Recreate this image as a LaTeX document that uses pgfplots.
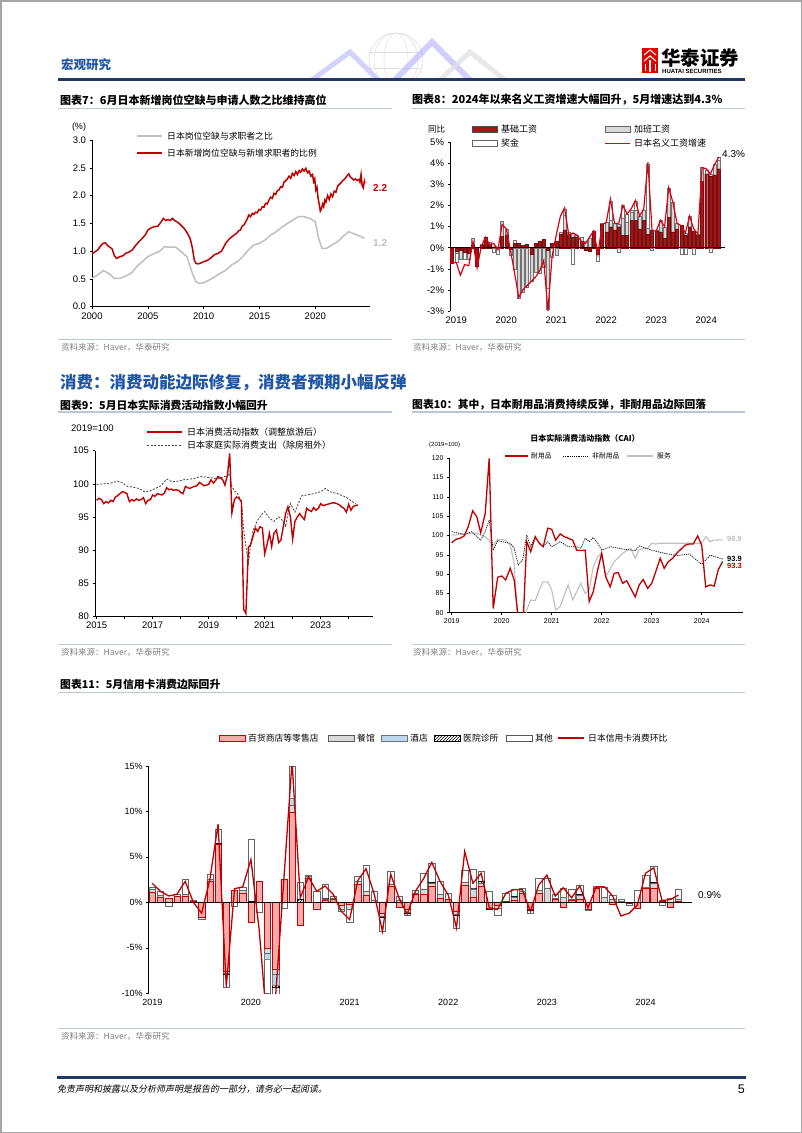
\documentclass[border=0pt]{standalone}
\usepackage{fontspec}
\setmainfont{Liberation Sans}
\newfontfamily\cjk{Noto Sans CJK SC}
\newfontfamily\cjkit{Noto Sans CJK SC}[FakeSlant=0.2]
\usepackage{pgfplots}
\pgfplotsset{compat=1.18}
\usepackage{pgfplotstable}
\usetikzlibrary{patterns}
\newcommand\fs[1]{\fontsize{#1}{#1}\selectfont}
\definecolor{navy}{RGB}{31,56,100}
\definecolor{hblue}{RGB}{30,85,165}
\definecolor{dkred}{RGB}{192,0,0}
\definecolor{basered}{RGB}{165,20,25}
\definecolor{linered}{RGB}{220,0,20}
\definecolor{pinkf}{RGB}{246,170,170}
\definecolor{lgray}{RGB}{217,217,217}
\definecolor{lblue}{RGB}{189,215,238}
\definecolor{srcgray}{RGB}{128,128,128}
\definecolor{rulec}{RGB}{190,198,210}
\definecolor{midgray}{RGB}{191,191,191}

\pgfplotsset{
  pagestyle/.style={scale only axis, anchor=south west,
    axis line style={black, line width=0.6pt, -},
    tick style={black, line width=0.5pt}, major tick length=2.5pt,
    tick align=outside, ticklabel style={font=\fs{9.5}}},
  hid/.style={scale only axis, anchor=south west, axis lines=none, ticks=none}
}

% ---------- Chart 8 data: base wage D, overtime G, bonus W, total L ----------
\pgfplotstableread{
i D G W L
-1 0 0 0 0.5
0 -0.75 0 0 -0.7
1 -0.15 -0.1 -0.45 -0.7
2 -0.1 -0.45 0 -1.3
3 -0.2 0 -0.35 -0.8
4 -0.25 -0.3 0 -0.85
5 0.1 0 0.35 0.3
6 -0.85 0 0 -0.95
7 0.1 0.05 0 0.05
8 0.5 0 0 0.5
9 0.15 0.1 0 0.15
10 0.05 0 -0.2 0.2
11 0.05 0 -0.3 -0.1
12 0.55 0.7 0 1.1
13 0.6 0.3 0 0.9
14 -0.05 -0.3 0 -0.1
15 0.2 -1.0 0.15 -1.2
16 0.2 -2.4 0 -2.35
17 0.1 -2.1 0 -2.0
18 0.15 -1.85 0 -1.8
19 -0.3 -1.3 0 -1.6
20 0.2 -1.15 0 -1.4
21 0.3 -1.2 0 -1.1
22 0.4 -0.9 0 -0.6
23 -0.1 -1.8 -1.0 -3.0
24 0.2 0 -0.45 -0.4
25 0.3 -0.35 0 0.6
26 0.65 0.1 0 1.5
27 0.85 0.7 0.3 1.9
28 0.6 0.15 0 0.6
29 0.5 0.2 -0.8 0.7
30 0.5 0.1 0 0.6
31 0.3 0.2 0 0.3
32 -0.1 0.3 0 0.2
33 -0.15 0.45 0 0.5
34 0.8 0 0 0.8
35 -0.3 0 -0.35 -0.3
36 1.1 0.05 0 1.1
37 0.75 0.45 0 1.2
38 1.0 0.3 0.9 2.3
39 0.85 0.3 0 1.15
40 1.0 0.1 -0.2 1.15
41 0.6 0.8 0.6 2.0
42 0.6 0.6 0.4 1.6
43 1.3 0.4 0.1 1.85
44 1.3 0.5 0.4 2.25
45 0.9 0.6 0 1.5
46 1.3 0.5 0 1.85
47 0.65 0.3 3.0 4.05
48 0.85 0 -0.1 0.8
49 0.8 0.05 0 0.8
50 0.75 0.55 0 1.3
51 0.45 0.55 0 1.0
52 1.45 1.4 0 2.85
53 0.75 1.4 0 2.15
54 0.9 0.25 0 1.15
55 1.05 0 -0.3 1.05
56 0.6 0.1 -0.3 0.7
57 1.0 0.5 0 1.5
58 0.8 0 -0.3 0.9
59 0.6 0.05 0 0.65
60 3.15 0.65 0 3.8
61 3.5 0.2 0 3.75
62 3.4 0.1 -0.2 3.5
63 3.45 0.5 0 3.95
64 3.75 0.4 0.15 4.3
}\wagetab

% ---------- Chart 11 data: retail P, restaurants G, hotels B, clinics H, other O, total L ----------
\pgfplotstableread{
i P G B H O L
0 1.1 0.3 0 0 0.3 2.1
1 0.6 0.2 0 0 0.4 1.2
2 0.5 0 0 0 -0.4 0.7
3 0.7 0 0 0 0.2 0.9
4 0.7 0.2 0 0 1.6 2.3
5 0.15 0.1 0 0 0 0.0
6 -1.6 -0.2 0 0 0 -1.2
7 2.3 0.3 0 0 0.5 2.5
8 6.4 0 0 0.1 1.6 8.6
9 -7.6 -0.2 0 -0.1 -1.4 -9.3
10 1.3 0 0 0 -0.4 1.5
11 1.0 0.3 0 0 0.4 1.7
12 -2.2 0 0 0.1 6.8 4.7
13 2.3 0 0 0 -1.1 -3.0
14 -5.0 -0.6 -0.6 -0.1 -3.7 -14
15 -7.3 -0.6 -1.2 -0.2 -1.0 -10.3
16 2.5 0 0 0 -0.6 2.5
17 9.9 0.8 0.8 0 3.5 15.5
18 -2.5 0 0 0.3 1.9 0.5
19 2.7 0.2 0 0 0.1 2.8
20 -0.7 0 0 0 1.2 1.2
21 0.2 0.2 0 0.05 1.6 1.8
22 0.3 0.2 0 0 0.2 0.9
23 -0.3 -0.4 0 0 -0.3 -1.0
24 -0.2 -0.5 0 0 -1.5 -1.9
25 2.0 0.3 0 0 0.6 2.4
26 0.8 0.4 0 0.05 2.8 3.7
27 0 0.2 0 0 1.0 0.9
28 -1.2 -0.3 0 -0.1 -1.6 -3.2
29 1.8 0.2 0 0 1.4 3.1
30 -0.5 0.2 0 0 0.5 0.5
31 -0.8 -0.3 0 -0.1 -0.2 -1.3
32 0.9 0.1 0 0 0.3 1.2
33 0.9 0.6 0 0 1.7 2.6
34 1.8 0.3 0 0.1 2.1 4.4
35 0.5 0.4 0 0 1.4 2.3
36 0.3 0.1 0 0 0.6 0.8
37 -1.0 -0.3 0 -0.1 -1.4 -2.8
38 1.9 0.3 0 0 1.3 5.6
39 0.6 0.9 0 0.1 2.0 2.1
40 1.8 0.3 0 0.2 1.1 3.2
41 -0.6 0 0 -0.1 1.2 -0.6
42 -0.3 -0.3 0 0 -0.8 -0.8
43 0.1 0 0 0 0.9 1.0
44 0.2 0.4 0 0.1 0.8 1.4
45 1.0 0.2 0 0 0.4 1.4
46 -0.8 0 0 -0.1 -0.3 -1.0
47 1.0 0.3 0 0 1.4 1.9
48 0.0 1.6 0 0 1.1 3.0
49 0.3 0.2 0 0 0.4 0.7
50 -0.5 0.6 0 0 1.0 1.6
51 0.2 0.2 0 0 1.1 0.5
52 0.3 0.5 0 0.1 1.0 1.8
53 -0.7 0 0 0 -0.2 -0.6
54 1.6 0.1 0 0 0.1 1.7
55 0.0 0.6 0 0 1.1 1.7
56 -0.2 0.3 0 0 0.5 0.7
57 0 0.1 0 0 0.2 -1.5
58 -0.1 0 0 0 -0.2 -1.2
59 -0.6 0 0 0 1.3 -0.3
60 1.6 0.1 0 0 1.3 3.2
61 1.6 0.5 0 0.1 1.8 3.8
62 0.1 0.1 0 0 -0.3 0.2
63 -0.5 0 0 0 0.5 0.3
64 0.1 0.2 0 0 1.2 0.8
}\cardtab

\begin{document}
\begin{tikzpicture}
\useasboundingbox (0pt,0pt) rectangle (802pt,-1133pt);
\fill[white] (0pt,0pt) rectangle (802pt,-1133pt);

\begin{scope}[x=1pt,y=-1pt]
% page frame
\draw[gray!70, line width=1.5pt] (0.75,0.75) rectangle (801.25,1132.25);
% header decoration (globe + chevrons)
\begin{scope}
\clip (300,20) rectangle (520,79);
\draw[gray!25, line width=0.6pt] (396,60) circle (27);
\draw[gray!25, line width=0.5pt] (396,60) ellipse (12 and 27);
\draw[gray!25, line width=0.5pt] (396,60) ellipse (22 and 27);
\draw[gray!25, line width=0.5pt] (369,52) -- (423,52) (370,68) -- (422,68);
\draw[blue!25, line width=5pt, opacity=0.7] (312,80) -- (350,52) -- (378,80);
\draw[blue!30, line width=6pt, opacity=0.6] (395,80) -- (432,42) -- (470,80);
\draw[gray!25, line width=5pt, opacity=0.7] (440,80) -- (470,52) -- (505,80);
\end{scope}
\node[anchor=west, inner sep=0, text=hblue] at (61,65) {\cjk\bfseries\fs{12.5}宏观研究};
% logo
\fill[red!90!black] (642,48) rectangle (658,73);
\draw[white, line width=1.1pt] (644,55) -- (650,50) -- (656,55);
\draw[white, line width=1.1pt] (644,61) -- (650,56) -- (656,61);
\draw[white, line width=1.1pt] (650,60) -- (650,72);
\draw[white, line width=0.9pt] (645,64) -- (645,71) (655,64) -- (655,71);
\node[anchor=west, inner sep=0] at (661,58) {\cjk\bfseries\fs{19.5}华泰证券};
\node[anchor=west, inner sep=0] at (662,71.5) {\bfseries\fs{6}HUATAI SECURITIES};
\draw[navy, line width=2.5pt] (58,79.5) -- (745,79.5);

% chart titles row 1
\node[anchor=west, inner sep=0] at (60,100) {\cjk\bfseries\fs{11}图表7：6月日本新增岗位空缺与申请人数之比维持高位};
\node[anchor=west, inner sep=0] at (412,100) {\cjk\bfseries\fs{11}图表8：2024年以来名义工资增速大幅回升，5月增速达到4.3\%};
\draw[rulec, line width=1.2pt] (58,108.5) -- (392,108.5);
\draw[rulec, line width=1.2pt] (412,108.5) -- (745,108.5);

% chart 7 labels/legend
\node[anchor=center, inner sep=0] at (79,127) {\fs{9}(\%)};
\draw[midgray, line width=1.5pt] (137,136) -- (162,136);
\node[anchor=west, inner sep=0] at (167,136) {\cjk\fs{8.8}日本岗位空缺与求职者之比};
\draw[dkred, line width=1.5pt] (137,153) -- (162,153);
\node[anchor=west, inner sep=0] at (167,153) {\cjk\fs{8.8}日本新增岗位空缺与新增求职者的比例};
\node[anchor=west, inner sep=0, text=dkred] at (373,188) {\bfseries\fs{10}2.2};
\node[anchor=west, inner sep=0, text=midgray] at (373,243) {\bfseries\fs{10}1.2};

% chart 8 legend
\node[anchor=west, inner sep=0] at (428,129) {\cjk\fs{8.5}同比};
\draw[fill=basered, draw=black!70, line width=0.4pt] (472,126.5) rectangle (497,132.5);
\node[anchor=west, inner sep=0] at (501,129) {\cjk\fs{9}基础工资};
\draw[fill=lgray, draw=black!60, line width=0.4pt] (605,126.5) rectangle (630,132.5);
\node[anchor=west, inner sep=0] at (634,129) {\cjk\fs{9}加班工资};
\draw[fill=white, draw=black!60, line width=0.4pt] (472,140.5) rectangle (497,146.5);
\node[anchor=west, inner sep=0] at (501,143.5) {\cjk\fs{9}奖金};
\draw[linered, line width=1.5pt] (605,143.5) -- (630,143.5);
\node[anchor=west, inner sep=0] at (634,143.5) {\cjk\fs{9}日本名义工资增速};
\node[anchor=west, inner sep=0] at (722,154) {\fs{10}4.3\%};

% sources row 1
\draw[rulec, line width=0.8pt] (58,339) -- (392,339);
\draw[rulec, line width=0.8pt] (412,339) -- (745,339);
\node[anchor=west, inner sep=0, text=srcgray] at (61,347.5) {\cjk\fs{8.5}资料来源：Haver，华泰研究};
\node[anchor=west, inner sep=0, text=srcgray] at (413,347.5) {\cjk\fs{8.5}资料来源：Haver，华泰研究};

% section heading
\node[anchor=west, inner sep=0, text=hblue] at (60,383) {\cjk\bfseries\fs{16.5}消费：消费动能边际修复，消费者预期小幅反弹};

% chart titles row 2
\node[anchor=west, inner sep=0] at (60,405) {\cjk\bfseries\fs{10.8}图表9：5月日本实际消费活动指数小幅回升};
\node[anchor=west, inner sep=0] at (412,405) {\cjk\bfseries\fs{10.8}图表10：其中，日本耐用品消费持续反弹，非耐用品边际回落};
\draw[rulec, line width=1.2pt] (58,412) -- (392,412);
\draw[rulec, line width=1.2pt] (412,412) -- (745,412);

% chart 9 labels / legend
\node[anchor=west, inner sep=0] at (71,428) {\fs{9.5}2019=100};
\draw[dkred, line width=1.5pt] (147,432) -- (182,432);
\node[anchor=west, inner sep=0] at (187,432) {\cjk\fs{9}日本消费活动指数（调整旅游后）};
\draw[black!75, line width=0.8pt, dash pattern=on 2pt off 1.5pt] (147,445) -- (182,445);
\node[anchor=west, inner sep=0] at (187,445) {\cjk\fs{9}日本家庭实际消费支出（除房租外）};

% chart 10 labels / legend
\node[anchor=center, inner sep=0] at (585,438) {\cjk\bfseries\fs{8}日本实际消费活动指数（CAI）};
\node[anchor=west, inner sep=0] at (429,444.5) {\fs{6}(2019=100)};
\draw[dkred, line width=1.3pt] (505,456) -- (528,456);
\node[anchor=west, inner sep=0] at (531,456) {\cjk\fs{6.8}耐用品};
\draw[black, line width=0.7pt, dash pattern=on 1.2pt off 1pt] (563,456) -- (588,456);
\node[anchor=west, inner sep=0] at (592,456) {\cjk\fs{6.8}非耐用品};
\draw[midgray, line width=1.2pt] (627,456) -- (653,456);
\node[anchor=west, inner sep=0] at (657,456) {\cjk\fs{6.8}服务};
\node[anchor=west, inner sep=0, text=midgray] at (727,539) {\bfseries\fs{7.5}98.9};
\node[anchor=west, inner sep=0] at (727,558.5) {\bfseries\fs{7.5}93.9};
\node[anchor=west, inner sep=0, text=dkred] at (727,565.5) {\bfseries\fs{7.5}93.3};

% sources row 2
\draw[rulec, line width=0.8pt] (58,644) -- (392,644);
\draw[rulec, line width=0.8pt] (412,644) -- (745,644);
\node[anchor=west, inner sep=0, text=srcgray] at (61,652.5) {\cjk\fs{8.5}资料来源：Haver，华泰研究};
\node[anchor=west, inner sep=0, text=srcgray] at (413,652.5) {\cjk\fs{8.5}资料来源：Haver，华泰研究};

% chart 11 title / legend
\node[anchor=west, inner sep=0] at (60,684) {\cjk\bfseries\fs{10.8}图表11：5月信用卡消费边际回升};
\draw[rulec, line width=1.2pt] (58,692.5) -- (745,692.5);
\draw[fill=pinkf, draw=dkred, line width=0.4pt] (219,735) rectangle (245,741);
\node[anchor=west, inner sep=0] at (248,738) {\cjk\fs{8.8}百货商店等零售店};
\draw[fill=lgray, draw=black!65, line width=0.4pt] (328,735) rectangle (354,741);
\node[anchor=west, inner sep=0] at (357,738) {\cjk\fs{8.8}餐馆};
\draw[fill=lblue, draw=black!55, line width=0.4pt] (381,735) rectangle (407,741);
\node[anchor=west, inner sep=0] at (410,738) {\cjk\fs{8.8}酒店};
\draw[pattern=north east lines, draw=black, line width=0.4pt] (434,735) rectangle (460,741);
\node[anchor=west, inner sep=0] at (463,738) {\cjk\fs{8.8}医院诊所};
\draw[fill=white, draw=black!65, line width=0.4pt] (506,735) rectangle (532,741);
\node[anchor=west, inner sep=0] at (535,738) {\cjk\fs{8.8}其他};
\draw[dkred, line width=1.3pt] (558,738) -- (584,738);
\node[anchor=west, inner sep=0] at (588,738) {\cjk\fs{8.8}日本信用卡消费环比};
\node[anchor=west, inner sep=0] at (698,895) {\fs{10}0.9\%};
\draw[rulec, line width=0.8pt] (58,1028) -- (745,1028);
\node[anchor=west, inner sep=0, text=srcgray] at (61,1036) {\cjk\fs{8.5}资料来源：Haver，华泰研究};

% footer
\draw[navy, line width=2.5pt] (57,1077.5) -- (746,1077.5);
\node[anchor=west, inner sep=0] at (57,1089.5) {\cjkit\fs{9}免责声明和披露以及分析师声明是报告的一部分，请务必一起阅读。};
\node[anchor=east, inner sep=0] at (745,1089.5) {\fs{12.5}5};
\end{scope}

% ================= Chart 7 =================
\begin{axis}[pagestyle, at={(92pt,-306.7pt)}, width=278pt, height=166.7pt,
  xmin=2000, xmax=2024.9, ymin=0, ymax=3,
  axis x line*=bottom, axis y line*=left,
  xtick={2000,2005,2010,2015,2020}, xticklabels={2000,2005,2010,2015,2020},
  ytick={0,0.5,1,1.5,2,2.5,3}, yticklabels={0.0,0.5,1.0,1.5,2.0,2.5,3.0}]
\addplot[midgray, line width=1.5pt] coordinates {
(2000.0,0.51)(2000.5,0.57)(2001.0,0.65)(2001.5,0.60)(2002.0,0.51)(2002.5,0.51)(2003.0,0.55)(2003.5,0.60)(2004.0,0.72)(2004.5,0.81)(2005.0,0.90)(2005.5,0.95)(2006.0,0.99)(2006.5,1.08)(2007.0,1.07)(2007.5,1.07)(2008.0,0.99)(2008.5,0.90)(2009.0,0.60)(2009.3,0.45)(2009.6,0.42)(2010.0,0.43)(2010.5,0.48)(2011.0,0.54)(2011.5,0.60)(2012.0,0.66)(2012.5,0.75)(2013.0,0.81)(2013.5,0.90)(2014.0,1.02)(2014.5,1.11)(2015.0,1.14)(2015.5,1.20)(2016.0,1.29)(2016.5,1.35)(2017.0,1.43)(2017.5,1.50)(2018.0,1.56)(2018.5,1.62)(2019.0,1.62)(2019.5,1.59)(2020.0,1.53)(2020.3,1.23)(2020.6,1.05)(2021.0,1.05)(2021.5,1.11)(2022.0,1.17)(2022.5,1.27)(2023.0,1.35)(2023.5,1.31)(2024.0,1.27)(2024.4,1.23)};
\addplot[dkred, line width=1.5pt] coordinates {
(2000.0,0.95)(2000.2,0.98)(2000.5,1.02)(2000.8,1.10)(2001.0,1.14)(2001.2,1.15)(2001.4,1.10)(2001.6,1.07)(2001.8,1.04)(2002.0,0.92)(2002.2,0.87)(2002.5,0.90)(2002.8,0.92)(2003.0,0.96)(2003.3,0.98)(2003.6,1.02)(2003.9,1.10)(2004.2,1.17)(2004.5,1.23)(2004.8,1.30)(2005.0,1.38)(2005.3,1.42)(2005.6,1.44)(2005.9,1.45)(2006.1,1.50)(2006.4,1.59)(2006.6,1.55)(2006.8,1.57)(2007.0,1.55)(2007.2,1.59)(2007.4,1.55)(2007.6,1.53)(2007.8,1.50)(2008.0,1.46)(2008.2,1.42)(2008.4,1.37)(2008.6,1.30)(2008.8,1.22)(2009.0,1.05)(2009.15,0.85)(2009.3,0.78)(2009.5,0.77)(2009.8,0.79)(2010.0,0.81)(2010.3,0.83)(2010.6,0.87)(2011.0,0.94)(2011.3,0.96)(2011.6,1.00)(2012.0,1.15)(2012.3,1.22)(2012.6,1.27)(2013.0,1.33)(2013.15,1.37)(2013.3,1.38)(2013.45,1.45)(2013.6,1.47)(2013.75,1.52)(2013.9,1.58)(2014.05,1.65)(2014.2,1.62)(2014.35,1.68)(2014.5,1.66)(2014.65,1.70)(2014.8,1.69)(2014.95,1.75)(2015.1,1.74)(2015.25,1.80)(2015.4,1.79)(2015.55,1.86)(2015.7,1.85)(2015.85,1.92)(2016.0,1.97)(2016.15,1.95)(2016.3,2.04)(2016.45,2.02)(2016.6,2.09)(2016.75,2.10)(2016.9,2.16)(2017.05,2.15)(2017.2,2.24)(2017.35,2.27)(2017.5,2.30)(2017.65,2.35)(2017.8,2.31)(2017.95,2.40)(2018.1,2.36)(2018.25,2.43)(2018.4,2.38)(2018.55,2.45)(2018.7,2.42)(2018.85,2.48)(2019.0,2.44)(2019.15,2.49)(2019.3,2.41)(2019.45,2.44)(2019.6,2.35)(2019.75,2.38)(2019.85,2.25)(2019.95,2.30)(2020.05,2.10)(2020.15,2.15)(2020.25,1.95)(2020.35,1.85)(2020.45,1.72)(2020.55,1.76)(2020.65,1.85)(2020.75,1.80)(2020.85,1.92)(2020.95,1.88)(2021.1,2.00)(2021.25,1.93)(2021.4,2.03)(2021.55,1.98)(2021.7,2.08)(2021.85,2.06)(2022.0,2.17)(2022.15,2.20)(2022.3,2.23)(2022.45,2.27)(2022.6,2.29)(2022.75,2.33)(2022.9,2.37)(2023.0,2.39)(2023.15,2.33)(2023.3,2.31)(2023.45,2.28)(2023.6,2.30)(2023.75,2.27)(2023.9,2.29)(2024.0,2.24)(2024.1,2.38)(2024.2,2.18)(2024.3,2.14)(2024.4,2.26)(2024.45,2.22)};
\end{axis}

% ================= Chart 8 =================
\begin{axis}[pagestyle, at={(450pt,-311pt)}, width=275pt, height=168.7pt,
  xmin=-0.5, xmax=65.5, ymin=-3, ymax=5,
  axis y line*=left, axis x line*=bottom, x axis line style={draw=none},
  xtick={1,13,25,37,49,61}, xticklabels={2019,2020,2021,2022,2023,2024}, xtick style={draw=none},
  ytick={-3,-2,-1,0,1,2,3,4,5}, yticklabels={-3\%,-2\%,-1\%,0\%,1\%,2\%,3\%,4\%,5\%},
  ybar stacked, bar width=3pt]
\addplot[fill=basered, draw=basered!70!black, line width=0.3pt] table[x=i, y expr={max(\thisrow{D},0)}] \wagetab;
\addplot[fill=lgray, draw=black!55, line width=0.3pt] table[x=i, y expr={max(\thisrow{G},0)}] \wagetab;
\addplot[fill=white, draw=black!55, line width=0.3pt] table[x=i, y expr={max(\thisrow{W},0)}] \wagetab;
\end{axis}
\begin{axis}[hid, at={(450pt,-311pt)}, width=275pt, height=168.7pt,
  xmin=-0.5, xmax=65.5, ymin=-3, ymax=5, ybar stacked, bar width=3pt]
\addplot[fill=basered, draw=basered!70!black, line width=0.3pt] table[x=i, y expr={min(\thisrow{D},0)}] \wagetab;
\addplot[fill=lgray, draw=black!55, line width=0.3pt] table[x=i, y expr={min(\thisrow{G},0)}] \wagetab;
\addplot[fill=white, draw=black!55, line width=0.3pt] table[x=i, y expr={min(\thisrow{W},0)}] \wagetab;
\end{axis}
\begin{axis}[hid, at={(450pt,-311pt)}, width=275pt, height=168.7pt,
  xmin=-0.5, xmax=65.5, ymin=-3, ymax=5]
\draw[black, line width=1pt] (axis cs:-0.5,0) -- (axis cs:65.5,0);
\addplot[linered, line width=1.2pt] table[x=i, y=L] \wagetab;
\end{axis}

% ================= Chart 9 =================
\begin{axis}[pagestyle, at={(95pt,-616pt)}, width=278pt, height=165.3pt,
  xmin=2014.94, xmax=2024.87, ymin=80, ymax=105,
  axis x line*=bottom, axis y line*=left,
  xtick={2015,2016,2017,2018,2019,2020,2021,2022,2023,2024},
  xticklabels={2015,,2017,,2019,,2021,,2023,},
  ytick={80,85,90,95,100,105}, yticklabels={80,85,90,95,100,105}]
\addplot[black!75, line width=0.8pt, dash pattern=on 2pt off 1.5pt] coordinates {
(2015.0,99.9)(2015.25,100.0)(2015.5,100.1)(2015.75,100.4)(2015.9,100.2)(2016.1,99.6)(2016.3,99.5)(2016.5,99.3)(2016.7,98.8)(2016.9,98.9)(2017.1,99.3)(2017.3,99.7)(2017.5,100.7)(2017.7,100.3)(2017.9,100.4)(2018.1,100.6)(2018.3,100.7)(2018.5,100.8)(2018.7,101.1)(2018.9,101.0)(2019.1,100.9)(2019.3,100.7)(2019.5,101.0)(2019.67,101.2)(2019.75,101.5)(2019.83,99.6)(2019.92,98.9)(2020.0,98.7)(2020.17,97.4)(2020.25,93.0)(2020.33,90.5)(2020.42,88.0)(2020.5,90.8)(2020.58,92.8)(2020.67,93.8)(2020.75,94.5)(2020.9,95.4)(2021.0,95.8)(2021.17,94.8)(2021.33,94.3)(2021.5,95.0)(2021.67,94.3)(2021.75,93.5)(2021.83,95.5)(2021.92,97.0)(2022.08,95.7)(2022.25,97.5)(2022.33,98.2)(2022.5,98.3)(2022.75,98.5)(2023.0,98.8)(2023.17,99.3)(2023.33,98.8)(2023.6,98.5)(2023.9,98.0)(2024.1,97.4)(2024.25,97.0)};
\addplot[dkred, line width=1.4pt] coordinates {
(2015.0,97.5)(2015.08,97.8)(2015.17,97.6)(2015.25,97.0)(2015.33,97.3)(2015.42,97.1)(2015.5,97.5)(2015.58,97.3)(2015.67,98.0)(2015.75,98.2)(2015.83,98.5)(2015.92,98.8)(2016.0,98.7)(2016.08,98.5)(2016.17,97.3)(2016.25,97.6)(2016.33,97.4)(2016.42,97.7)(2016.5,97.5)(2016.58,97.6)(2016.67,97.9)(2016.75,97.0)(2016.83,97.5)(2016.92,97.6)(2017.0,98.3)(2017.08,98.1)(2017.17,98.5)(2017.25,98.4)(2017.33,98.3)(2017.42,98.6)(2017.5,99.4)(2017.58,99.1)(2017.67,99.2)(2017.75,99.0)(2017.83,99.1)(2017.92,99.0)(2018.0,98.7)(2018.08,98.5)(2018.17,99.6)(2018.25,99.4)(2018.33,99.3)(2018.42,99.5)(2018.5,99.6)(2018.58,99.7)(2018.67,100.2)(2018.75,100.0)(2018.83,99.7)(2018.92,99.8)(2019.0,99.9)(2019.08,100.6)(2019.17,100.1)(2019.25,100.5)(2019.33,101.1)(2019.42,100.9)(2019.5,100.6)(2019.58,99.8)(2019.67,101.3)(2019.75,104.6)(2019.83,95.6)(2019.92,97.6)(2020.0,98.0)(2020.08,97.8)(2020.17,97.3)(2020.25,81.0)(2020.33,80.4)(2020.42,90.4)(2020.5,90.8)(2020.58,92.0)(2020.67,93.3)(2020.75,92.8)(2020.83,93.5)(2020.92,93.3)(2021.0,89.4)(2021.08,90.7)(2021.17,92.5)(2021.25,90.5)(2021.33,92.5)(2021.42,93.0)(2021.5,91.1)(2021.58,91.5)(2021.67,93.6)(2021.75,95.5)(2021.83,96.5)(2021.92,95.0)(2022.0,91.6)(2022.08,94.3)(2022.17,95.0)(2022.25,95.5)(2022.33,95.0)(2022.42,94.6)(2022.5,96.3)(2022.58,96.0)(2022.67,95.8)(2022.75,96.4)(2022.83,96.0)(2022.92,96.3)(2023.0,97.0)(2023.08,96.7)(2023.17,96.8)(2023.25,96.9)(2023.33,97.0)(2023.42,97.1)(2023.5,97.1)(2023.58,97.0)(2023.67,96.8)(2023.75,96.5)(2023.83,96.3)(2023.92,95.7)(2024.0,96.9)(2024.08,96.0)(2024.17,96.6)(2024.25,96.7)(2024.33,96.8)};
\end{axis}

% ================= Chart 10 =================
\begin{axis}[pagestyle, at={(449pt,-612.7pt)}, width=294pt, height=154.4pt,
  xmin=2018.946, xmax=2024.826, ymin=80, ymax=120,
  axis x line*=bottom, axis y line*=left, ticklabel style={font=\fs{7}},
  major tick length=2pt,
  xtick={2019,2020,2021,2022,2023,2024}, xticklabels={2019,2020,2021,2022,2023,2024},
  ytick={80,85,90,95,100,105,110,115,120}, yticklabels={80,85,90,95,100,105,110,115,120}]
\addplot[midgray, line width=1.1pt] coordinates {
(2019.0,100.1)(2019.5,100.6)(2019.67,99.7)(2019.83,97.5)(2019.92,99.0)(2020.0,99.0)(2020.08,98.7)(2020.17,97.5)(2020.25,92.8)(2020.33,75.5)(2020.42,73.8)(2020.5,80.7)(2020.58,83.3)(2020.67,83.1)(2020.75,85.9)(2020.83,88.0)(2020.92,88.0)(2021.0,85.9)(2021.08,80.7)(2021.17,81.6)(2021.33,87.2)(2021.42,83.3)(2021.58,87.6)(2021.67,85.0)(2021.75,85.9)(2021.83,91.9)(2021.92,94.5)(2022.0,95.4)(2022.08,89.3)(2022.25,93.2)(2022.42,95.4)(2022.58,96.7)(2022.67,94.1)(2022.75,96.4)(2022.92,96.7)(2023.0,98.0)(2023.08,97.8)(2023.17,98.0)(2023.5,98.0)(2023.83,98.0)(2024.0,98.0)(2024.08,99.7)(2024.17,98.4)(2024.25,98.8)(2024.42,98.9)};
\addplot[black, line width=0.7pt, dash pattern=on 1.2pt off 1pt] coordinates {
(2019.0,101.0)(2019.25,100.3)(2019.4,101.0)(2019.58,98.8)(2019.67,101.0)(2019.75,104.0)(2019.83,96.2)(2019.92,98.7)(2020.0,98.4)(2020.17,98.0)(2020.25,96.7)(2020.33,92.4)(2020.42,93.7)(2020.5,100.1)(2020.58,97.1)(2020.67,99.7)(2020.75,98.0)(2020.83,97.1)(2020.92,98.4)(2021.0,97.1)(2021.17,98.4)(2021.33,97.1)(2021.5,97.1)(2021.58,96.7)(2021.67,99.3)(2021.75,98.4)(2021.83,99.5)(2021.92,98.0)(2022.0,96.2)(2022.17,97.1)(2022.42,96.5)(2022.67,96.1)(2022.75,97.3)(2023.0,96.2)(2023.25,95.4)(2023.5,94.8)(2023.75,95.2)(2024.0,92.5)(2024.17,94.9)(2024.42,93.9)};
\addplot[dkred, line width=1.3pt] coordinates {
(2019.0,98.1)(2019.08,99.0)(2019.17,99.3)(2019.25,99.9)(2019.33,102.3)(2019.42,106.4)(2019.5,104.9)(2019.58,100.7)(2019.67,105.7)(2019.75,120.0)(2019.83,81.1)(2019.92,89.2)(2020.0,89.5)(2020.08,88.5)(2020.17,91.5)(2020.25,88.5)(2020.33,78.5)(2020.42,75.0)(2020.5,98.4)(2020.58,95.8)(2020.67,99.7)(2020.75,98.0)(2020.83,97.1)(2020.92,101.9)(2021.0,101.6)(2021.08,98.8)(2021.17,100.4)(2021.25,99.7)(2021.33,99.3)(2021.42,98.8)(2021.5,96.2)(2021.58,96.1)(2021.67,96.2)(2021.75,82.9)(2021.83,85.4)(2021.92,91.1)(2022.0,95.4)(2022.08,89.3)(2022.17,86.7)(2022.25,90.2)(2022.33,90.4)(2022.42,87.6)(2022.5,88.3)(2022.58,86.3)(2022.67,84.1)(2022.75,87.2)(2022.83,88.6)(2022.92,86.3)(2023.0,87.6)(2023.08,90.6)(2023.17,94.1)(2023.25,91.5)(2023.33,93.2)(2023.42,94.1)(2023.5,95.4)(2023.58,96.4)(2023.67,97.5)(2023.75,97.8)(2023.83,97.8)(2023.92,99.9)(2024.0,97.5)(2024.08,86.7)(2024.17,87.2)(2024.25,86.9)(2024.33,91.1)(2024.42,93.3)};
\end{axis}

% ================= Chart 11 =================
\begin{axis}[pagestyle, at={(148.6pt,-993.2pt)}, width=543.4pt, height=227.2pt,
  xmin=-0.45, xmax=65.65, ymin=-10, ymax=15,
  axis y line*=left, axis x line*=bottom, x axis line style={draw=none},
  xtick={0,12,24,36,48,60}, xticklabels={2019,2020,2021,2022,2023,2024}, xtick style={draw=none},
  ytick={-10,-5,0,5,10,15}, yticklabels={-10\%,-5\%,0\%,5\%,10\%,15\%},
  ticklabel style={font=\fs{9}}, ybar stacked, bar width=6.3pt]
\addplot[fill=pinkf, draw=dkred, line width=0.35pt] table[x=i, y expr={max(\thisrow{P},0)}] \cardtab;
\addplot[fill=lgray, draw=black!60, line width=0.35pt] table[x=i, y expr={max(\thisrow{G},0)}] \cardtab;
\addplot[fill=lblue, draw=black!50, line width=0.35pt] table[x=i, y expr={max(\thisrow{B},0)}] \cardtab;
\addplot[pattern=north east lines, draw=black, line width=0.35pt] table[x=i, y expr={max(\thisrow{H},0)}] \cardtab;
\addplot[fill=white, draw=black!60, line width=0.35pt] table[x=i, y expr={max(\thisrow{O},0)}] \cardtab;
\end{axis}
\begin{axis}[hid, at={(148.6pt,-993.2pt)}, width=543.4pt, height=227.2pt,
  xmin=-0.45, xmax=65.65, ymin=-10, ymax=15, ybar stacked, bar width=6.3pt]
\addplot[fill=pinkf, draw=dkred, line width=0.35pt] table[x=i, y expr={min(\thisrow{P},0)}] \cardtab;
\addplot[fill=lgray, draw=black!60, line width=0.35pt] table[x=i, y expr={min(\thisrow{G},0)}] \cardtab;
\addplot[fill=lblue, draw=black!50, line width=0.35pt] table[x=i, y expr={min(\thisrow{B},0)}] \cardtab;
\addplot[pattern=north east lines, draw=black, line width=0.35pt] table[x=i, y expr={min(\thisrow{H},0)}] \cardtab;
\addplot[fill=white, draw=black!60, line width=0.35pt] table[x=i, y expr={min(\thisrow{O},0)}] \cardtab;
\end{axis}
\begin{axis}[hid, at={(148.6pt,-993.2pt)}, width=543.4pt, height=227.2pt,
  xmin=-0.45, xmax=65.65, ymin=-10, ymax=15]
\draw[black, line width=1.1pt] (axis cs:-0.45,0) -- (axis cs:65.65,0);
\addplot[dkred, line width=1.3pt] table[x=i, y=L] \cardtab;
\end{axis}
\end{tikzpicture}
\end{document}
